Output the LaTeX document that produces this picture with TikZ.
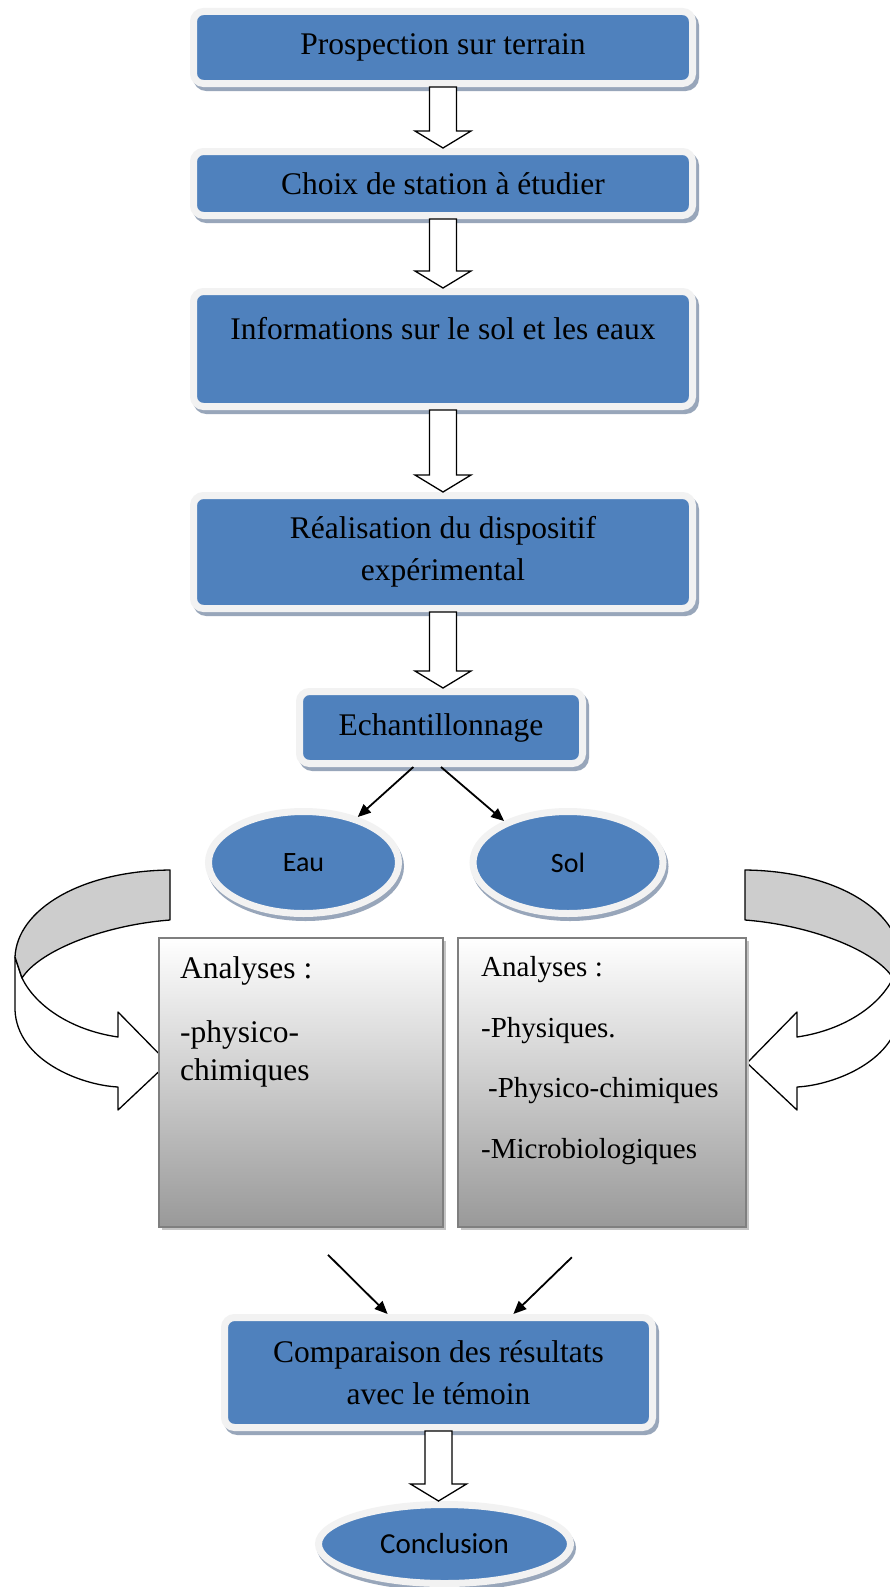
\documentclass[tikz,border=0pt]{standalone}
\usepackage{fontspec}
\setmainfont{Liberation Serif}
\newfontfamily\calibri{Carlito}
\usepackage{tikz}
\usetikzlibrary{arrows.meta, calc, shapes.geometric}
\definecolor{stepblue}{HTML}{4F81BD}
\definecolor{rimgray}{HTML}{F2F2F2}
\definecolor{boxshadow}{HTML}{98A6BA}
\definecolor{ribbongray}{HTML}{CDCDCD}
\definecolor{panelgray}{HTML}{999999}
\definecolor{panelline}{HTML}{7F7F7F}
\definecolor{panelshadow}{HTML}{C4C4C4}

% hollow block arrow, straight down from #1 to #2
\newcommand{\blockarrow}[2]{%
  \draw[hollowarrow] let \p1=(#1), \p2=(#2) in
    (\x1-13.5,\y1) -- (\x1+13.5,\y1) -- (\x1+13.5,\y2+17)
    -- (\x1+28,\y2+17) -- (\x1,\y2) -- (\x1-28,\y2+17)
    -- (\x1-13.5,\y2+17) -- cycle;}

% curved ribbon arrow (left side)
\newcommand{\ribbonarrow}{%
  \draw[ribbon, fill=white] (15,957) -- (15,1010)
      .. controls (17,1060) and (80,1085) .. (118,1087)
      -- (118,1110) -- (168,1063) -- (118,1012) -- (118,1037)
      .. controls (70,1030) and (35,1005) .. (22,978) -- cycle;
  \draw[ribbon, fill=ribbongray] (170,870)
      .. controls (80,871) and (17,910) .. (15,957) -- (22,978)
      .. controls (40,950) and (105,925) .. (170,920) -- cycle;}

\begin{document}
\begin{tikzpicture}[x=1pt, y=-1pt,
    stepbox/.style={rectangle, rounded corners=10, fill=stepblue,
      draw=rimgray, line width=7, inner sep=0pt, align=center,
      font=\fontsize{31.5}{42}\selectfont,
      preaction={fill=boxshadow, draw=boxshadow, line width=7,
        transform canvas={shift={(3,4)}}}},
    stepoval/.style={ellipse, fill=stepblue, draw=rimgray, line width=7,
      inner sep=0pt, font=\calibri\fontsize{28}{34}\selectfont,
      preaction={fill=boxshadow, draw=boxshadow, line width=7,
        transform canvas={shift={(2,4)}}}},
    panel/.style={rectangle, draw=panelline, line width=2,
      top color=white, bottom color=panelgray, inner sep=0pt,
      preaction={fill=panelshadow, transform canvas={shift={(3,3)}}}},
    paneltext/.style={anchor=base west, inner sep=0pt},
    hollowarrow/.style={draw=black, fill=white, line width=1.3,
      line join=miter},
    ribbon/.style={draw=black, line width=1.3, line join=round},
    linkarrow/.style={-{Triangle[length=13pt,width=11pt]}, line width=1.8}]
  \useasboundingbox[fill=white] (0,0) rectangle (890,1587);

  % ribbons behind the analysis panels
  \ribbonarrow
  \begin{scope}[xshift=915, xscale=-1]
    \ribbonarrow
  \end{scope}

  \node[stepbox, minimum width=499, minimum height=72] (b1) at (443,47.5)
        {Prospection sur terrain};
  \node[stepbox, minimum width=499, minimum height=64] (b2) at (443,183.5)
        {Choix de station à étudier};
  \node[stepbox, minimum width=499, minimum height=115] (b3) at (443,349)
        {Informations sur le sol et les eaux\\ \mbox{}};
  \node[stepbox, minimum width=499, minimum height=113] (b4) at (443,552)
        {Réalisation du dispositif\\expérimental};
  \node[stepbox, minimum width=283, minimum height=72] (b5) at (441,727.5)
        {Echantillonnage};

  \node[stepoval, minimum width=190, minimum height=102] (eau) at (303.5,862.5) {Eau};
  \node[stepoval, minimum width=190, minimum height=102] (sol) at (568,862.5) {Sol};

  \node[panel, minimum width=284, minimum height=289] (ana1) at (301,1082.5) {};
  \node[panel, minimum width=288, minimum height=289] (ana2) at (602,1082.5) {};
  \begin{scope}[font=\fontsize{31.5}{38}\selectfont]
    \foreach \n/\t/\y in {1/Analyses :/978, 2/-physico-/1042, 3/chimiques/1080}
      \node[paneltext] (eautxt\n) at (180,\y) {\t};
  \end{scope}
  \begin{scope}[font=\fontsize{29}{35}\selectfont]
    \foreach \n/\t/\x/\y in {1/Analyses :/481/976, 2/-Physiques./481/1037,
        3/-Physico-chimiques/488/1097, 4/-Microbiologiques/481/1158}
      \node[paneltext] (soltxt\n) at (\x,\y) {\t};
  \end{scope}

  \node[stepbox, minimum width=428, minimum height=110] (cmp) at (438.5,1372.5)
        {Comparaison des résultats\\avec le témoin};
  \node[stepoval, minimum width=252, minimum height=79,
        font=\calibri\fontsize{29}{34}\selectfont] (concl) at (444.5,1544)
        {Conclusion};

  % hollow arrows between the steps
  \foreach \a/\b in {b1/b2, b2/b3, b3/b4, b4/b5, cmp/concl}
    {\blockarrow{\a.south}{\b.north}}

  \draw[linkarrow] (b5.235) -- (eau.40);
  \draw[linkarrow] (b5.south) -- (sol.147);
  \draw[linkarrow, shorten <=38pt] (ana1.south) -- (cmp.131);
  \draw[linkarrow, shorten <=42pt] (ana2.south) -- (cmp.38);
\end{tikzpicture}
\end{document}
